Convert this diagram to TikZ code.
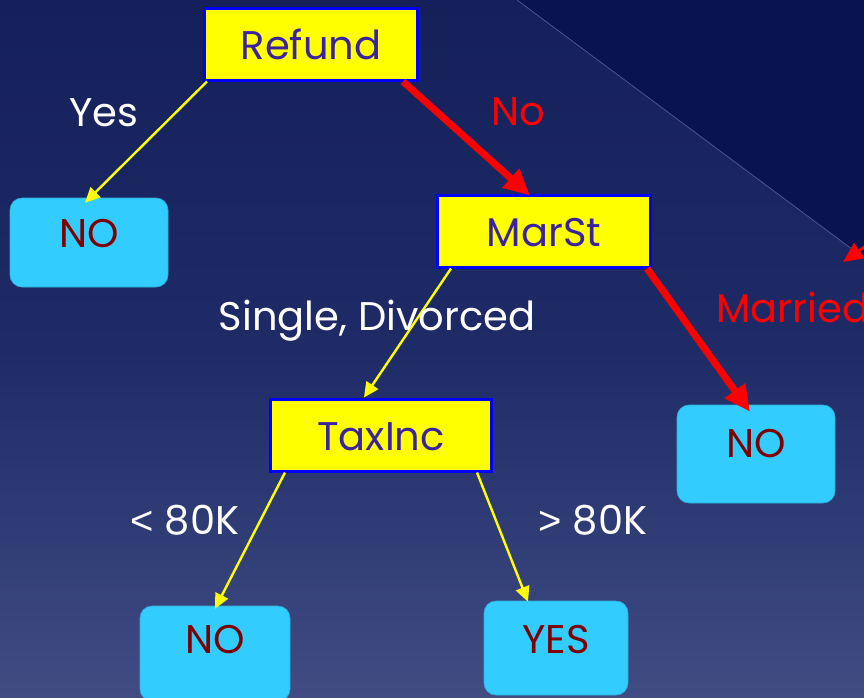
\documentclass[tikz,border=0pt]{standalone}
\usepackage{fontspec}
\setmainfont{Poppins}
\newfontfamily\relfont{Liberation Sans}
\usetikzlibrary{arrows.meta,positioning}
\definecolor{skytop}{HTML}{15205A}
\definecolor{skymid}{HTML}{1E2B66}
\definecolor{skybot}{HTML}{404C82}
\definecolor{corner}{HTML}{08134F}
\definecolor{edge}{HTML}{4A5590}
\definecolor{split}{HTML}{FFFF00}
\definecolor{splitline}{HTML}{0000FF}
\definecolor{splitink}{HTML}{3A22A0}
\definecolor{leaf}{HTML}{33CCFF}
\definecolor{leafink}{HTML}{800000}
\definecolor{hotred}{HTML}{FF0000}
\newcommand{\slidefont}{\fontsize{40}{46}\selectfont}
\tikzset{
  every node/.style={font=\slidefont},
  splitbox/.style={draw=splitline,line width=3pt,fill=split,text=splitink,minimum height=72pt,text height=30pt,text depth=0pt,inner sep=0pt},
  leafbox/.style={fill=leaf,draw=leaf!85!black,line width=0.6pt,rounded corners=12pt,text=leafink,inner sep=0pt,anchor=base},
  yarr/.style={-{Triangle[length=15pt,width=14pt]},line width=2.4pt,draw=split},
  redarr/.style={-{Triangle[length=26pt,width=24pt]},line width=7pt,draw=hotred},
  lbl/.style={anchor=base,text=white,inner sep=0pt},
  redlbl/.style={lbl,text=hotred},
}
\begin{document}
\begin{tikzpicture}[x=1pt,y=-1pt]
\clip (0,0) rectangle (864,697);
\shade[top color=skytop,bottom color=skybot,middle color=skymid] (0,0) rectangle (864,697);
\fill[corner] (517,0) -- (864,258) -- (864,0) -- cycle;
\draw[edge,line width=0.8pt] (517,0) -- (864,258);

\node[splitbox,minimum width=213pt] (refund) at (311,44) {Refund};
\node[splitbox,minimum width=213pt] (marst) at (544,231) {MarSt};
\node[splitbox,minimum width=221pt] (taxinc) at (381,435) {TaxInc};

\node[leafbox,minimum width=158pt,text height=49pt,text depth=40pt] (noa) at (89,247) {NO};
\node[leafbox,minimum width=158pt,text height=52pt,text depth=46pt] (nob) at (756,457) {NO};
\node[leafbox,minimum width=150pt,text height=47pt,text depth=48pt] (noc) at (215,653) {NO};
\node[leafbox,minimum width=144pt,text height=52pt,text depth=42pt] (yes) at (556,653) {YES};

\draw[yarr] ([xshift=4pt]refund.south west) -- ([xshift=-4pt,yshift=-5pt]noa.north);
\draw[redarr] ([xshift=-16pt]refund.south east) -- ([xshift=-14pt,yshift=-2pt]marst.north);
\draw[yarr] ([xshift=15pt]marst.south west) -- ([xshift=-17pt]taxinc.north);
\draw[redarr] ([xshift=-5pt]marst.south east) -- ([xshift=-6pt,yshift=-7pt]nob.north);
\draw[yarr] ([xshift=16pt]taxinc.south west) -- ([yshift=-3pt]noc.north);
\draw[yarr] ([xshift=-16pt]taxinc.south east) -- ([xshift=-28pt,yshift=-1pt]yes.north);

\coordinate (offpage) at (880,236);
\coordinate (offtip) at (843,262);
\draw[-{Triangle[length=20pt,width=18pt]},line width=3pt,draw=hotred] (offpage) -- (offtip);

\node[lbl] (yeslbl) at (104,126) {Yes};
\node[redlbl] (nolbl) at (518,125) {No};
\node[lbl] (sdlbl) at (377,330) {Single, Divorced};
\node[redlbl,anchor=base west] (marlbl) at (716,322) {Married};
\node[lbl] (lolbl) at (185,534) {{\relfont<} 80K};
\node[lbl] (hilbl) at (593,534) {{\relfont>} 80K};
\end{tikzpicture}
\end{document}
